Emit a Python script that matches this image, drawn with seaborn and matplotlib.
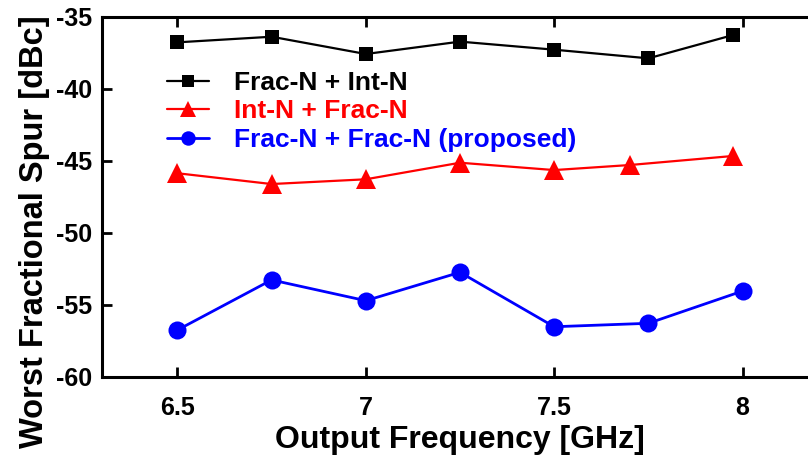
import matplotlib
matplotlib.use("Agg")
import matplotlib.pyplot as plt
import seaborn as sns
import pandas as pd
from matplotlib.ticker import FormatStrFormatter

# values
freq_black = [6.5, 6.75, 7.0, 7.25, 7.5, 7.75, 7.975]
spur_black = [-36.76, -36.37, -37.57, -36.71, -37.27, -37.87, -36.25]

freq_red = [6.5, 6.75, 7.0, 7.25, 7.5, 7.70, 7.975]
spur_red = [-45.85, -46.6, -46.27, -45.12, -45.63, -45.28, -44.65]

freq_blue = [6.5, 6.75, 7.0, 7.25, 7.5, 7.75, 8.0]
spur_blue = [-56.74, -53.26, -54.70, -52.73, -56.51, -56.27, -54.03]

labels = ["Frac-N + Int-N", "Int-N + Frac-N", "Frac-N + Frac-N (proposed)"]
xticks = [6.5, 7, 7.5, 8]
yticks = [-60, -55, -50, -45, -40, -35]

sns.set_style("ticks")
plt.rcParams['font.family'] = ['Liberation Sans', 'DejaVu Sans']
plt.rcParams['font.weight'] = 'bold'
plt.rcParams['text.color'] = 'black'
plt.rcParams['axes.labelcolor'] = 'black'
plt.rcParams['axes.edgecolor'] = 'black'
plt.rcParams['xtick.color'] = 'black'
plt.rcParams['ytick.color'] = 'black'

fig = plt.figure(figsize=(8.08, 4.58), dpi=100)
# right spine sits just outside the picture, like the cropped original
ax = fig.add_axes([102 / 808, 1 - 377 / 458, 716 / 808, 360 / 458])

df_black = pd.DataFrame({"f": freq_black, "s": spur_black})
df_red = pd.DataFrame({"f": freq_red, "s": spur_red})
df_blue = pd.DataFrame({"f": freq_blue, "s": spur_blue})

sns.lineplot(data=df_black, x="f", y="s", ax=ax, color="black", marker="s",
             markersize=10, linewidth=1.6, markeredgewidth=0, label=labels[0])
sns.lineplot(data=df_red, x="f", y="s", ax=ax, color="#ff0000", marker="^",
             markersize=14, linewidth=1.6, markeredgewidth=0, label=labels[1])
sns.lineplot(data=df_blue, x="f", y="s", ax=ax, color="#0000ff", marker="o",
             markersize=13, linewidth=2, markeredgewidth=0, label=labels[2])

ax.set_xlim(6.3, 8.2)
ax.set_ylim(-60, -35)
ax.set_xticks(xticks)
ax.set_yticks(yticks)
ax.xaxis.set_major_formatter(FormatStrFormatter('%g'))
ax.yaxis.set_major_formatter(FormatStrFormatter('%g'))

for sp in ax.spines.values():
    sp.set_linewidth(2.2)
    sp.set_visible(True)
    sp.set_color('black')

ax.tick_params(axis='both', direction='in', length=7, width=2, top=True, right=True,
               labelsize=18)
ax.tick_params(axis='x', pad=14)
ax.tick_params(axis='y', pad=7)

ax.set_xlabel("Output Frequency [GHz]", fontsize=23, fontweight='bold', labelpad=3)
ax.set_ylabel("Worst Fractional Spur [dBc]", fontsize=23.5, fontweight='bold')
ax.yaxis.set_label_coords(-0.073, 0.405)

leg = ax.legend(loc='upper left', bbox_to_anchor=(167 / 808, 1 - 71 / 458),
                bbox_transform=fig.transFigure, frameon=False, fontsize=19,
                handlelength=1.6, handletextpad=0.95, labelspacing=0.17,
                borderpad=0, borderaxespad=0, markerscale=0.8)
for txt, col in zip(leg.get_texts(), ["black", "#ff0000", "#0000ff"]):
    txt.set_color(col)
    txt.set_fontweight('bold')

fig.savefig("out.png", dpi=100)
